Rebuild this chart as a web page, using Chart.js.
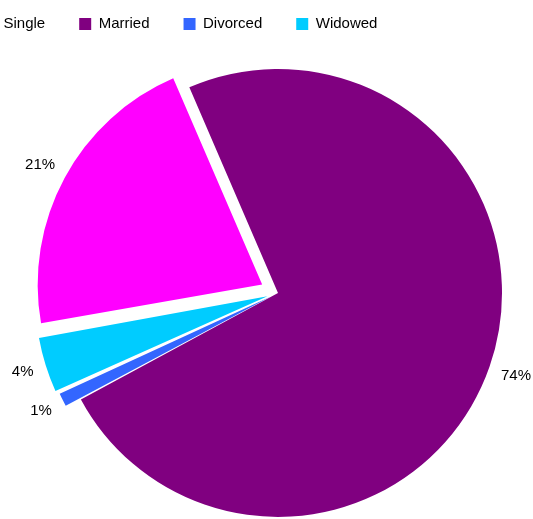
<!DOCTYPE html>
<html>
<head>
<meta charset="utf-8">
<script src="https://cdn.jsdelivr.net/npm/chart.js@4"></script>
<style>
  html, body { margin: 0; padding: 0; background: #fff; overflow: hidden; }
  #wrap { position: relative; width: 533px; height: 519px; overflow: hidden; }
  /* 左端の "Single" の凡例ボックスは画面外に出す */
  #myChart { position: absolute; left: -50px; top: -18px; }
</style>
</head>
<body>
<div id="wrap"><canvas id="myChart" width="656" height="563"></canvas></div>
<script>
'use strict'

// 婚姻状況
const categories = ['Single', 'Married', 'Divorced', 'Widowed'];
const shares = [21.3, 73.6, 1.1, 4.0];
const sliceColors = ['#FF00FF', '#800080', '#3366FF', '#00CCFF'];
const explode = [18, 0, 8.5, 11];   // px

const FONT = '"Liberation Sans", Arial, sans-serif';

// ラベル（パイの外側）
const outsideLabels = {
  id: 'outsideLabels',
  afterDatasetsDraw(chart) {
    const ctx = chart.ctx;
    const meta = chart.getDatasetMeta(0);
    const data = chart.data.datasets[0].data;
    const total = data.reduce((a, b) => a + b, 0);
    ctx.save();
    ctx.font = '15px ' + FONT;
    ctx.fillStyle = '#000';
    ctx.textAlign = 'center';
    ctx.textBaseline = 'middle';
    meta.data.forEach((arc, i) => {
      const p = arc.getProps(['x', 'y', 'startAngle', 'endAngle', 'outerRadius', 'circumference'], true);
      const mid = (p.startAngle + p.endAngle) / 2;
      const text = Math.round(data[i] / total * 100) + '%';
      const w = ctx.measureText(text).width;
      const h = 11;
      const c = Math.cos(mid), s = Math.sin(mid);
      const ext = Math.abs(c) * w / 2 + Math.abs(s) * h / 2;
      // Chart.js のずらし量: offset/4 の平行移動 + 小さい扇形の半径増し
      const off = (arc.options.offset || 0) / 4;
      const fix = 1 - Math.sin(Math.min(Math.PI, p.circumference || 0));
      const d = p.outerRadius + off + off * fix + 12 + ext;
      ctx.fillText(text, p.x + c * d, p.y + s * d);
    });
    ctx.restore();
  }
};

Chart.defaults.color = '#000';
Chart.defaults.font.family = FONT;
Chart.defaults.font.size = 15;

const ctx = document.getElementById('myChart');
window.myChart = new Chart(ctx, {
  type: 'pie',
  data: {
    labels: categories,
    datasets: [{
      data: shares,
      backgroundColor: sliceColors,
      borderWidth: 0,
      // Chart.js は offset の 1/4 だけずらす
      offset: explode.map(v => v * 4)
    }]
  },
  options: {
    responsive: false,
    animation: false,
    rotation: -100,
    radius: 224,
    layout: {
      padding: { left: 0, right: 0, top: 0.5, bottom: 0.5 }
    },
    plugins: {
      legend: {
        position: 'top',
        align: 'start',
        labels: {
          boxWidth: 12,
          boxHeight: 12,
          padding: 34,
          font: { size: 15, family: FONT }
        }
      },
      tooltip: { enabled: false }
    }
  },
  plugins: [outsideLabels]
});
</script>
</body>
</html>
